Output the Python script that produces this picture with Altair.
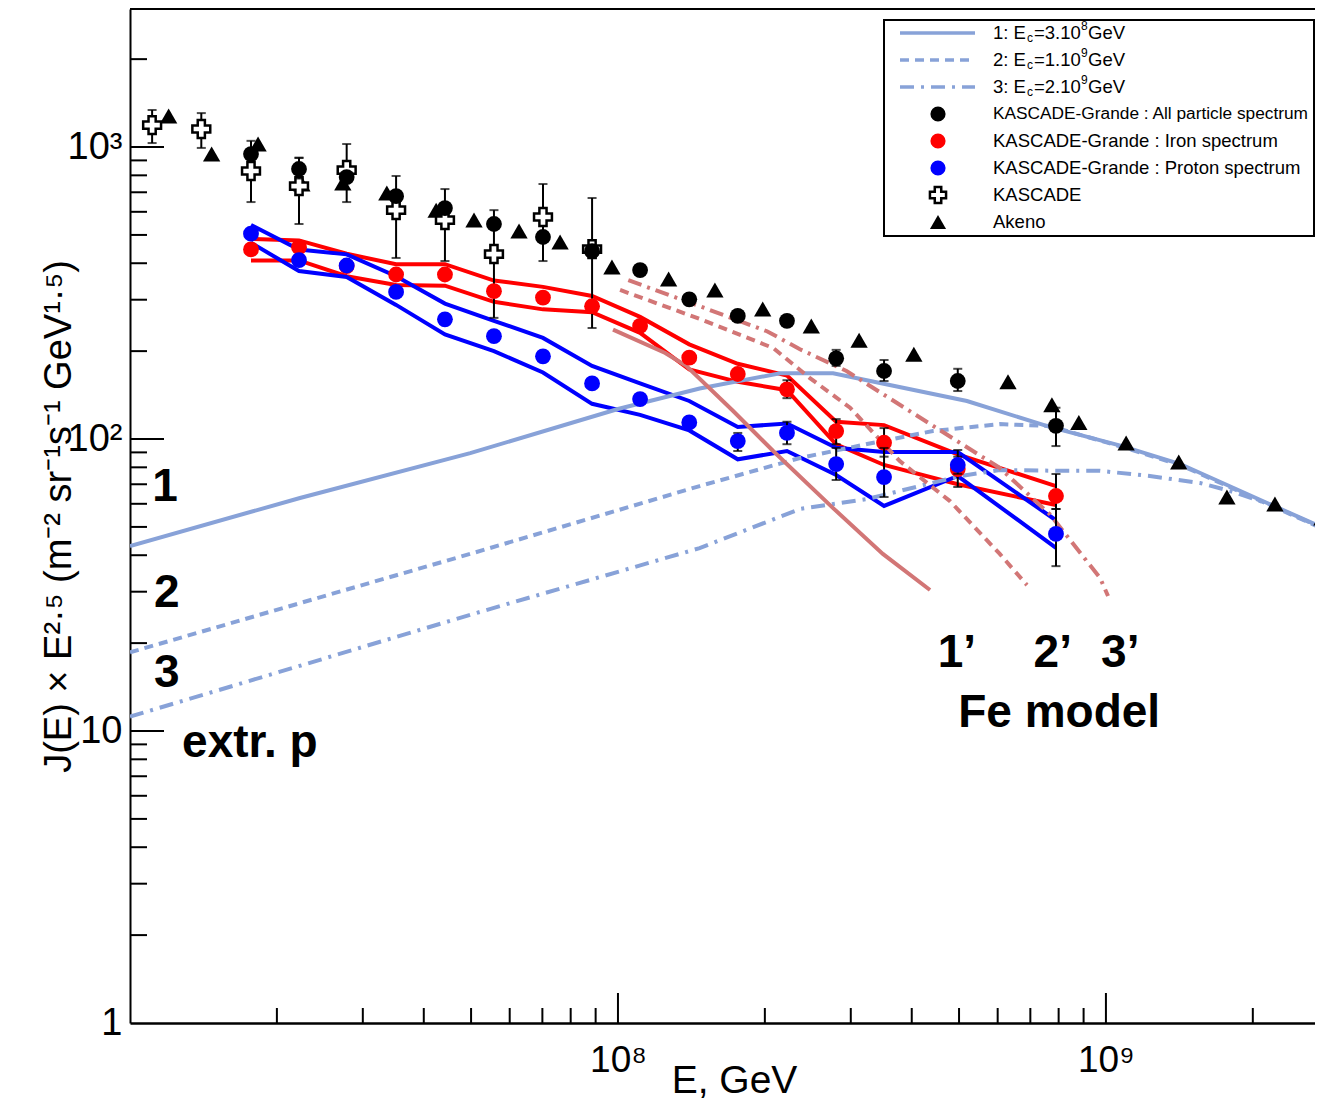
import altair as alt
import pandas as pd

# ---------------- data ----------------
KG_E = [1.77e7, 2.22e7, 2.78e7, 3.51e7, 4.42e7, 5.57e7, 7.02e7, 8.85e7,
        1.11e8, 1.40e8, 1.76e8, 2.22e8, 2.80e8, 3.51e8, 4.97e8, 7.90e8]
ALL_J = [946, 841, 789, 679, 618, 545, 492, 440, 379, 301, 264, 254, 189, 171, 158, 111]
ALL_LO = [None, 780, None, None, None, None, None, None, None, None, None, None, 178, 158, 146, 94.6]
ALL_HI = [None, 917, None, None, None, None, None, None, None, None, None, None, 202, 186.5, 174, 128]

IRON_J = [446, 454, 391, 366, 366, 321, 305, 285, 244, 190, 167, 148, 106.5, 97.1, 78.9, 63.8]
IRON_LO = [None] * 11 + [138, 96, 87, 68.5, 57.6]
IRON_HI = [None] * 11 + [159, 117, 109, 91.7, 75.9]

PROT_J = [505, 410, 393, 319, 257, 225, 192, 155, 137, 114, 98.4, 104.9, 82.1, 74.1, 81.5, 47.3]
PROT_LO = [None] * 10 + [91, 96, 72.4, 63.3, 76, 36.7]
PROT_HI = [None] * 10 + [104.9, 114.6, 93.2, 93.2, 87, 57.6]

IRON_UP = [485, 479, 431, 397, 397, 349, 332, 309, 262, 211, 181, 165, 114.6, 111.6, 88.6, 69]
IRON_DN = [409, 409, 361, 337, 335, 295, 278, 272, 231, 173, 157, 147, 95.9, 81.5, 70, 59.4]
PROT_UP = [541, 446, 429, 361, 291, 254, 222, 178, 155, 135, 110, 113, 93.4, 90.2, 90.2, 52.7]
PROT_DN = [470, 376, 359, 288, 228, 200, 169, 132, 121, 107, 85.2, 91, 75.3, 59, 74.7, 42.4]

KAS_E = [1.11e7, 1.40e7, 1.77e7, 2.22e7, 2.78e7, 3.51e7, 4.42e7, 5.57e7, 7.02e7, 8.85e7]
KAS_J = [1189, 1153, 828, 735, 834, 608, 562, 430, 576, 447]
KAS_HI = [1339, 1307, 1050, 920, 1024, 796, 718, 608, 747, 669]
KAS_LO = [1032, 993, 648, 545, 648, 417, 407, 260, 407, 240]

AK_E = [1.20e7, 1.47e7, 1.83e7, 2.25e7, 2.73e7, 3.36e7, 4.24e7, 5.07e7, 6.27e7, 7.61e7,
        9.72e7, 1.27e8, 1.58e8, 1.98e8, 2.49e8, 3.12e8, 4.04e8, 6.30e8, 7.75e8, 8.80e8,
        1.10e9, 1.41e9, 1.77e9, 2.22e9, 2.77e9]
AK_J = [1277, 946, 1024, 747, 753, 696, 608, 562, 516, 473,
        388, 353, 324, 279, 244, 218, 195, 157, 131, 114,
        96.9, 83.4, 63.3, 59.9, 53.6]

M1_E = [1.0e7, 2.23e7, 4.98e7, 1.0e8, 1.47e8, 2.15e8, 2.76e8, 3.18e8, 5.19e8, 7.67e8,
        1.08e9, 1.42e9, 2.14e9, 2.79e9]
M1_J = [43.0, 62.8, 89.5, 126.7, 149, 168, 168, 160, 135, 110, 94.6, 82.1, 60.4, 49.6]
M2_E = [1.0e7, 5.05e7, 1.47e8, 2.36e8, 3.24e8, 4.42e8, 6.06e8, 7.67e8, 1.08e9, 1.42e9,
        2.14e9, 2.79e9]
M2_J = [18.6, 40.7, 69.0, 86.1, 96.1, 106.5, 112.5, 110.8, 93.9, 81.5, 60.0, 49.2]
M3_E = [1.0e7, 5.14e7, 1.47e8, 2.36e8, 3.24e8, 5.03e8, 6.06e8, 8.32e8, 9.73e8, 1.23e9,
        1.56e9, 1.80e9, 2.14e9, 2.79e9]
M3_J = [11.2, 25.4, 42.3, 57.6, 62.3, 74.7, 78.3, 77.8, 77.8, 74.7, 70.7, 66.3, 60.2, 49.4]

F1_E = [9.77e7, 1.25e8, 1.38e8, 1.72e8, 2.08e8, 2.76e8, 3.49e8, 4.36e8]
F1_J = [237, 197, 178, 125, 91.0, 58, 40.4, 30.4]
F2_E = [1.01e8, 1.47e8, 2.08e8, 2.47e8, 2.99e8, 3.78e8, 4.79e8, 6.06e8, 6.89e8]
F2_J = [324, 258, 205, 162, 128, 84, 61.3, 40.4, 31.6]
F3_E = [1.05e8, 1.47e8, 2.02e8, 2.36e8, 2.94e8, 4.42e8, 6.06e8, 7.67e8, 9.73e8, 1.01e9]
F3_J = [350, 285, 234, 203, 171, 111, 79.6, 55.3, 33.4, 29]

ANN_TEXT = ["1", "2", "3", "extr. p", "1’", "2’", "3’", "Fe model"]
ANN_E = [1.18e7, 1.19e7, 1.19e7, 1.76e7, 4.95e8, 7.78e8, 1.07e9, 8.02e8]
ANN_J = [68.5, 29.7, 15.8, 9.1, 18.5, 18.5, 18.5, 11.5]

X_MAJOR = [1e8, 1e9]
X_MINOR = [2e7, 3e7, 4e7, 5e7, 6e7, 7e7, 8e7, 9e7,
           2e8, 3e8, 4e8, 5e8, 6e8, 7e8, 8e8, 9e8, 2e9]
Y_MAJOR = [10, 100, 1000]
Y_MINOR = [2, 3, 4, 5, 6, 7, 8, 9, 20, 30, 40, 50, 60, 70, 80, 90,
           200, 300, 400, 500, 600, 700, 800, 900, 2000]

LEG_LINE_TEXT = [("1: E", "=3.10", "8", "GeV"), ("2: E", "=1.10", "9", "GeV"),
                 ("3: E", "=2.10", "9", "GeV")]
LEG_MARK_TEXT = ["KASCADE-Grande : All particle spectrum", "KASCADE-Grande : Iron spectrum",
                 "KASCADE-Grande : Proton spectrum", "KASCADE", "Akeno"]

# ---------------- styling ----------------
W, H = 1185, 1014
FONT = "Liberation Sans"
MODEL_BLUE = "#88a2d8"
FE_RED = "#d27676"
xs = alt.Scale(type="log", domain=[1e7, 2.682e9], nice=False)
ys = alt.Scale(type="log", domain=[1, 2970], nice=False)

x_axis = alt.Axis(values=X_MAJOR, ticks=False, grid=False, domainColor="black", domainWidth=2.5,
                  labelExpr="datum.value < 5e8 ? '10⁸' : '10⁹'", labelFont=FONT,
                  labelFontSize=37, labelColor="black", labelPadding=19, labelAlign="center",
                  labelBaseline="top", title="E, GeV", titleFont=FONT, titleFontSize=39,
                  titleFontWeight="normal", titleColor="black", titleX=604, titleY=69,
                  titleBaseline="alphabetic", titleAlign="center")
y_axis = alt.Axis(values=[1, 10, 100, 1000], ticks=False, grid=False, domainColor="black",
                  domainWidth=2,
                  labelExpr="datum.value < 5 ? '1' : datum.value < 50 ? '10' : datum.value < 500 ? '10²' : '10³'",
                  labelFont=FONT, labelFontSize=38, labelColor="black", labelPadding=8,
                  labelAlign="right", labelBaseline="middle",
                  title="J(E) × E²·⁵ (m⁻² sr⁻¹s⁻¹ GeV¹·⁵)", titleFont=FONT, titleFontSize=38,
                  titleFontWeight="normal", titleColor="black", titleAngle=270, titleX=-60,
                  titleY=507, titleBaseline="alphabetic", titleAlign="center")


def df(E, J):
    return pd.DataFrame({"E": E, "J": J})


def err_df(E, lo, hi):
    rows = [(e, l, h) for e, l, h in zip(E, lo, hi) if l is not None]
    return pd.DataFrame(rows, columns=["E", "lo", "hi"])


def X(f="E"):
    return alt.X(f"{f}:Q", scale=xs, axis=x_axis)


def Y(f="J"):
    return alt.Y(f"{f}:Q", scale=ys, axis=y_axis)


ONE = pd.DataFrame({"a": [0]})
layers = []

# inside ticks
layers.append(alt.Chart(pd.DataFrame({"v": X_MAJOR})).mark_rule(color="black", strokeWidth=2).encode(
    x=X("v"), y=alt.value(H), y2=alt.value(H - 30)))
layers.append(alt.Chart(pd.DataFrame({"v": X_MINOR})).mark_rule(color="black", strokeWidth=2).encode(
    x=X("v"), y=alt.value(H), y2=alt.value(H - 15)))
layers.append(alt.Chart(pd.DataFrame({"v": Y_MAJOR})).mark_rule(color="black", strokeWidth=2).encode(
    y=Y("v"), x=alt.value(0), x2=alt.value(34)))
layers.append(alt.Chart(pd.DataFrame({"v": Y_MINOR})).mark_rule(color="black", strokeWidth=2).encode(
    y=Y("v"), x=alt.value(0), x2=alt.value(17)))
# top frame line
layers.append(alt.Chart(ONE).mark_rule(color="black", strokeWidth=2).encode(
    x=alt.value(0), x2=alt.value(W), y=alt.value(0)))

# band lines
for vals, col in [(IRON_UP, "red"), (IRON_DN, "red"), (PROT_UP, "blue"), (PROT_DN, "blue")]:
    layers.append(alt.Chart(df(KG_E, vals)).mark_line(color=col, strokeWidth=4).encode(x=X(), y=Y()))

# model lines
layers.append(alt.Chart(df(M1_E, M1_J)).mark_line(color=MODEL_BLUE, strokeWidth=4, clip=True).encode(
    x=X(), y=Y()))
layers.append(alt.Chart(df(M2_E, M2_J)).mark_line(color=MODEL_BLUE, strokeWidth=4, strokeDash=[9, 6],
                                                  clip=True).encode(x=X(), y=Y()))
layers.append(alt.Chart(df(M3_E, M3_J)).mark_line(color=MODEL_BLUE, strokeWidth=4,
                                                  strokeDash=[14, 7, 3, 7], clip=True).encode(x=X(), y=Y()))
layers.append(alt.Chart(df(F1_E, F1_J)).mark_line(color=FE_RED, strokeWidth=4).encode(x=X(), y=Y()))
layers.append(alt.Chart(df(F2_E, F2_J)).mark_line(color=FE_RED, strokeWidth=4, strokeDash=[9, 6]).encode(
    x=X(), y=Y()))
layers.append(alt.Chart(df(F3_E, F3_J)).mark_line(color=FE_RED, strokeWidth=4,
                                                  strokeDash=[14, 6, 3, 6]).encode(x=X(), y=Y()))


def errbars(E, lo, hi):
    d = err_df(E, lo, hi)
    out = [alt.Chart(d).mark_rule(color="black", strokeWidth=2).encode(x=X(), y=Y("lo"), y2="hi")]
    for f in ["lo", "hi"]:
        out.append(alt.Chart(d).mark_tick(color="black", orient="horizontal", size=9, thickness=2).encode(
            x=X(), y=Y(f)))
    return out


# Akeno
layers.append(alt.Chart(df(AK_E, AK_J)).mark_point(shape="triangle-up", filled=True, color="black",
                                                   size=300, opacity=1).encode(x=X(), y=Y()))
# KASCADE
layers += errbars(KAS_E, KAS_LO, KAS_HI)
layers.append(alt.Chart(df(KAS_E, KAS_J)).mark_point(shape="cross", filled=True, fill="white",
                                                     stroke="black", strokeWidth=2.5, size=320,
                                                     opacity=1).encode(x=X(), y=Y()))
# KASCADE-Grande
for J, lo, hi, col in [(IRON_J, IRON_LO, IRON_HI, "red"), (PROT_J, PROT_LO, PROT_HI, "blue"),
                       (ALL_J, ALL_LO, ALL_HI, "black")]:
    layers += errbars(KG_E, lo, hi)
    layers.append(alt.Chart(df(KG_E, J)).mark_point(shape="circle", filled=True, color=col, size=250,
                                                    opacity=1).encode(x=X(), y=Y()))

# annotations
ann = pd.DataFrame({"E": ANN_E, "J": ANN_J, "t": ANN_TEXT})
layers.append(alt.Chart(ann).mark_text(font=FONT, fontSize=46, fontWeight="bold", color="black",
                                       align="center", baseline="middle").encode(x=X(), y=Y(), text="t:N"))

# ---------------- legend (drawn in the plot's pixel frame) ----------------
LX0, LY0, LDY = 754, 24, 27
TX = LX0 + 109
MX = LX0 + 54
layers.append(alt.Chart(ONE).mark_rect(fill="white", stroke="black", strokeWidth=2).encode(
    x=alt.value(LX0), x2=alt.value(W - 1), y=alt.value(11), y2=alt.value(227)))


def txt(s, i, size=18.5, dx=0, dy=0):
    return alt.Chart(ONE).mark_text(font=FONT, fontSize=size, color="black", align="left",
                                    baseline="middle", dx=dx, dy=dy, text=s).encode(
        x=alt.value(TX), y=alt.value(LY0 + LDY * i))


for i, (dash, parts) in enumerate(zip([[1, 0], [9, 6], [14, 7, 3, 7]], LEG_LINE_TEXT)):
    yy = LY0 + LDY * i
    layers.append(alt.Chart(ONE).mark_rule(color=MODEL_BLUE, strokeWidth=3.5, strokeDash=dash).encode(
        x=alt.value(LX0 + 16), x2=alt.value(LX0 + 91), y=alt.value(yy)))
    pre, mid, sup, post = parts
    layers.append(txt(pre, i))
    layers.append(txt("c", i, size=12, dx=34, dy=5))
    layers.append(txt(mid, i, dx=41))
    layers.append(txt(sup, i, size=12, dx=88, dy=-7))
    layers.append(txt(post, i, dx=95))

for k, s in enumerate(LEG_MARK_TEXT):
    layers.append(txt(s, 3 + k, size=17.3 if k == 0 else 18.5))

for k, col in enumerate(["black", "red", "blue"]):
    layers.append(alt.Chart(ONE).mark_point(shape="circle", filled=True, color=col, size=230,
                                            opacity=1).encode(
        x=alt.value(MX), y=alt.value(LY0 + LDY * (3 + k))))
layers.append(alt.Chart(ONE).mark_point(shape="cross", filled=True, fill="white", stroke="black",
                                        strokeWidth=2.5, size=260, opacity=1).encode(
    x=alt.value(MX), y=alt.value(LY0 + LDY * 6)))
layers.append(alt.Chart(ONE).mark_point(shape="triangle-up", filled=True, color="black", size=260,
                                        opacity=1).encode(
    x=alt.value(MX), y=alt.value(LY0 + LDY * 7)))

chart = alt.layer(*layers).properties(
    width=W, height=H,
    padding={"left": 122, "top": 1, "right": 0, "bottom": 78},
    autosize=alt.AutoSizeParams(type="none"),
).configure(background="white").configure_view(stroke=None)

chart.save("out.html", embed_options={"renderer": "svg", "actions": False})
